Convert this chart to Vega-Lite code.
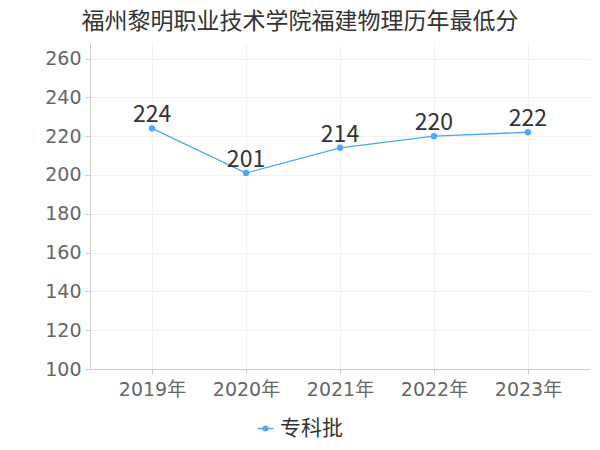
{
  "$schema": "https://vega.github.io/schema/vega-lite/v6.json",
  "width": 500,
  "height": 326,
  "autosize": {"type": "none"},
  "padding": {"left": 90, "top": 43, "right": 10, "bottom": 81},
  "background": "white",
  "title": {"text": "福州黎明职业技术学院福建物理历年最低分", "fontSize": 23, "font": "Noto Sans CJK SC", "fontWeight": "normal", "color": "#333333", "anchor": "middle", "dx": -40, "offset": 9},
  "data": {"values": [
    {"year": "2019年", "score": 224, "batch": "专科批"},
    {"year": "2020年", "score": 201, "batch": "专科批"},
    {"year": "2021年", "score": 214, "batch": "专科批"},
    {"year": "2022年", "score": 220, "batch": "专科批"},
    {"year": "2023年", "score": 222, "batch": "专科批"}
  ]},
  "config": {
    "font": "Noto Sans CJK SC",
    "view": {"stroke": null},
    "axis": {"labelFont": "DejaVu Sans, Noto Sans CJK SC", "labelColor": "#666666", "labelFontSize": 19, "domainColor": "#cccccc", "tickColor": "#cccccc", "gridColor": "#f2f2f2", "title": null}
  },
  "encoding": {
    "x": {"field": "year", "type": "ordinal", "scale": {"type": "point", "padding": 0.66}, "axis": {"labelAngle": 0, "grid": true, "tickSize": 5, "labelPadding": 6}},
    "y": {"field": "score", "type": "quantitative", "scale": {"domain": [100, 268], "nice": false, "zero": false}, "axis": {"values": [100, 120, 140, 160, 180, 200, 220, 240, 260], "grid": true, "tickSize": 5, "labelPadding": 4}}
  },
  "layer": [
    {
      "mark": {"type": "line", "strokeWidth": 1.3, "point": {"filled": true, "size": 40}},
      "encoding": {
        "color": {"field": "batch", "type": "nominal", "scale": {"range": ["#4da6fa"]},
          "legend": {"title": null, "orient": "none", "legendX": 165, "legendY": 375, "direction": "horizontal", "labelFontSize": 21, "labelColor": "#333333", "labelFont": "Noto Sans CJK SC", "symbolType": "M-1.6,0 L-0.45,0 M0.45,0 L1.6,0 M-0.45,0 A0.45,0.45 0 1,1 0.45,0 A0.45,0.45 0 1,1 -0.45,0 Z", "symbolSize": 100, "symbolStrokeWidth": 1.5, "symbolOffset": 0}}
      }
    },
    {
      "mark": {"type": "text", "dy": -13, "fontSize": 23, "color": "#333333", "font": "Noto Sans CJK SC"},
      "encoding": {"text": {"field": "score", "type": "quantitative"}}
    }
  ]
}
